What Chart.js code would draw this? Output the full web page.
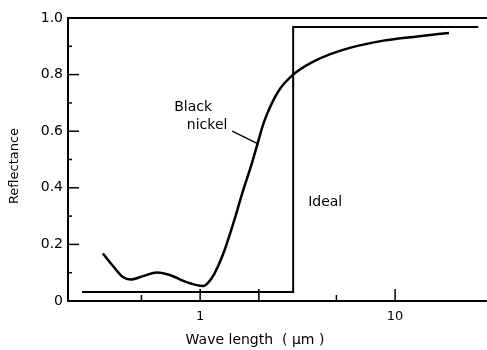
<!DOCTYPE html>
<html>
<head>
<meta charset="utf-8">
<script src="https://cdn.jsdelivr.net/npm/chart.js@4"></script>
<style>
  html, body { margin: 0; padding: 0; background: #fff; }
  #wrap { width: 487px; height: 350px; }
</style>
</head>
<body>
<div id="wrap"><canvas id="grafico" width="487" height="350"></canvas></div>
<script>
// datos
const longitudOnda = [0.317, 0.36, 0.40, 0.44, 0.51, 0.60, 0.70, 0.82, 0.96, 1.04, 1.10, 1.18, 1.31, 1.48, 1.66, 1.83, 1.97, 2.12, 2.30, 2.57, 3.0, 3.66, 5.2, 8.7, 13, 18.9]
const reflectancia = [0.168, 0.121, 0.086, 0.076, 0.088, 0.101, 0.092, 0.071, 0.056, 0.053, 0.065, 0.095, 0.165, 0.275, 0.39, 0.48, 0.556, 0.63, 0.69, 0.75, 0.80, 0.84, 0.884, 0.92, 0.935, 0.947]

const idealX = [0.248, 3.0, 3.0, 26.7]
const idealY = [0.032, 0.032, 0.968, 0.968]

// linea que señala la curva
const flechaX = [1.46, 1.97]
const flechaY = [0.60, 0.556]

const ticksX = [0.5, 1, 2, 5, 10]
const etiquetasX = { 1: '1', 10: '10' }
const ticksY = [0, 0.2, 0.4, 0.6, 0.8, 1.0]

const textos = [
    { t: 'Black', x: 0.92, y: 0.683 },
    { t: 'nickel', x: 1.086, y: 0.62 },
    { t: 'Ideal', x: 4.38, y: 0.35 }
]

const fuente = '"DejaVu Sans", sans-serif'

const puntos = (xs, ys) => xs.map((x, i) => ({ x: x, y: ys[i] }))

const extras = {
    id: 'extras',
    afterDraw(chart) {
        const c = chart.ctx
        const a = chart.chartArea
        const sx = chart.scales.x
        const sy = chart.scales.y
        c.save()
        c.strokeStyle = '#000'
        // borde superior
        c.lineWidth = 2
        c.beginPath()
        c.moveTo(a.left, a.top)
        c.lineTo(a.right, a.top)
        c.stroke()
        // marcas hacia adentro en x
        c.lineWidth = 1.5
        ticksX.forEach(v => {
            const px = sx.getPixelForValue(v)
            const largo = (v === 1 || v === 2 || v === 10) ? 12 : 6
            c.beginPath()
            c.moveTo(px, a.bottom)
            c.lineTo(px, a.bottom - largo)
            c.stroke()
        })
        // marcas hacia adentro en y
        for (let k = 1; k < 10; k++) {
            const v = k / 10
            const py = sy.getPixelForValue(v)
            const largo = (k % 2 === 0) ? 11 : 4
            c.beginPath()
            c.moveTo(a.left, py)
            c.lineTo(a.left + largo, py)
            c.stroke()
        }
        // textos
        c.fillStyle = '#000'
        c.font = '14px ' + fuente
        c.textAlign = 'center'
        c.textBaseline = 'middle'
        textos.forEach(e => {
            c.fillText(e.t, sx.getPixelForValue(e.x), sy.getPixelForValue(e.y))
        })
        // titulos de ejes
        c.fillText('Wave length  ( \u03bcm )', 255, 340)
        c.font = '13px ' + fuente
        c.translate(15, 166)
        c.rotate(-Math.PI / 2)
        c.fillText('Reflectance', 0, 0)
        c.restore()
    }
}

const ctx = document.getElementById('grafico')
let grafico = new Chart(ctx, {
    type: 'line',
    data: {
        datasets: [{
            label: 'Black nickel',
            data: puntos(longitudOnda, reflectancia),
            borderColor: '#000',
            borderWidth: 2.5,
            pointRadius: 0,
            cubicInterpolationMode: 'monotone'
        }, {
            label: 'Ideal',
            data: puntos(idealX, idealY),
            borderColor: '#000',
            borderWidth: 2,
            pointRadius: 0,
            tension: 0
        }, {
            label: 'flecha',
            data: puntos(flechaX, flechaY),
            borderColor: '#000',
            borderWidth: 1.3,
            pointRadius: 0,
            tension: 0
        }]
    },
    options: {
        responsive: false,
        animation: false,
        layout: { padding: { top: 18, right: 0, left: 0, bottom: 0 } },
        plugins: {
            legend: { display: false },
            tooltip: { enabled: false }
        },
        scales: {
            x: {
                type: 'logarithmic',
                min: 0.21,
                max: 29.6,
                afterBuildTicks: (s) => { s.ticks = ticksX.map(v => ({ value: v })) },
                afterFit: (s) => { s.height = 49 },
                grid: { display: false, drawTicks: false },
                border: { display: true, color: '#000', width: 2 },
                ticks: {
                    color: '#000',
                    padding: 8,
                    autoSkip: false,
                    maxRotation: 0,
                    font: { family: fuente, size: 13 },
                    callback: (v) => etiquetasX[v] || ''
                }
            },
            y: {
                min: 0,
                max: 1.0,
                afterBuildTicks: (s) => { s.ticks = ticksY.map(v => ({ value: v })) },
                afterFit: (s) => { s.width = 68 },
                grid: { display: false, drawTicks: false },
                border: { display: true, color: '#000', width: 2 },
                ticks: {
                    color: '#000',
                    padding: 5,
                    font: { family: fuente, size: 14 },
                    callback: (v) => v === 0 ? '0' : v.toFixed(1)
                }
            }
        }
    },
    plugins: [extras]
})
</script>
</body>
</html>
